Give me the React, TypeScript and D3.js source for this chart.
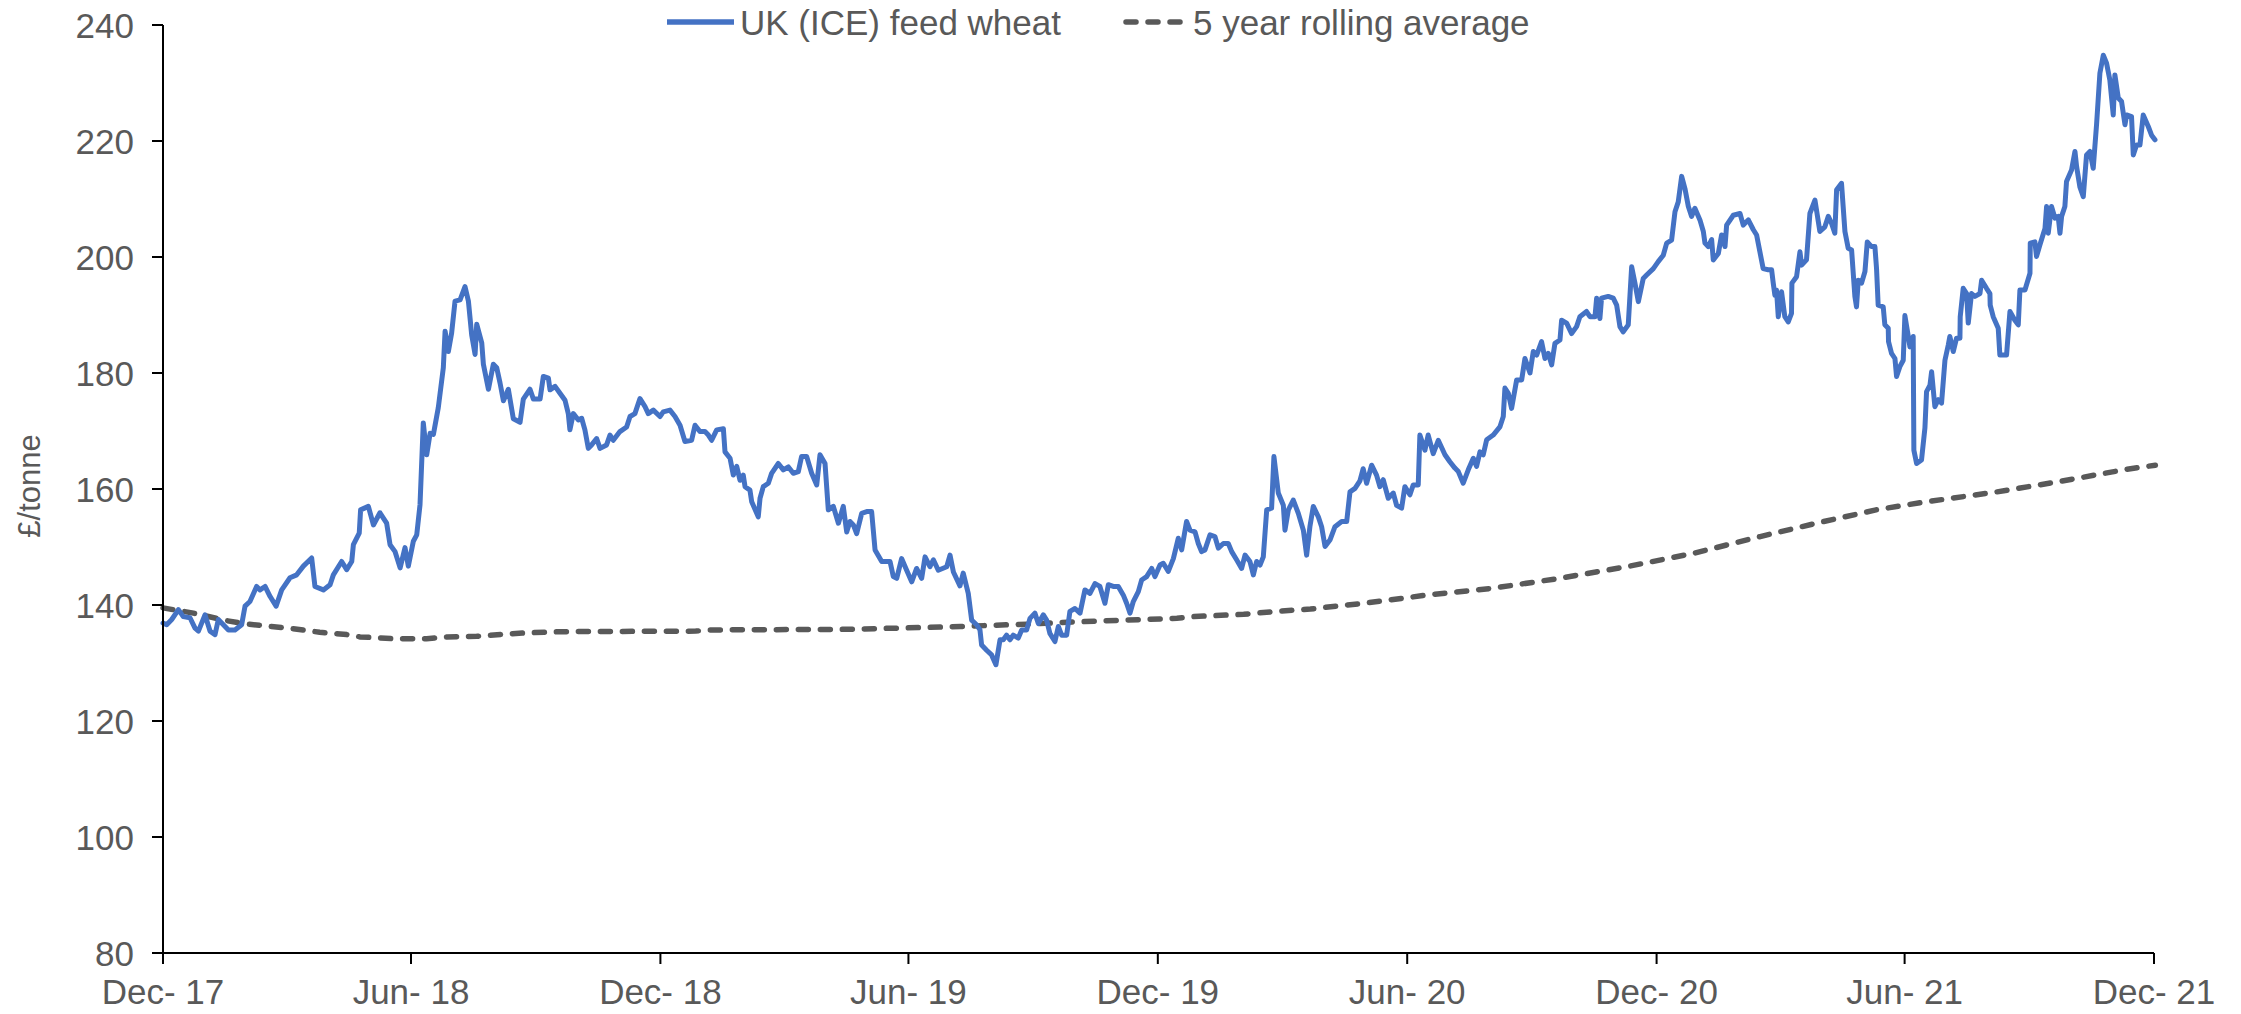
import React from "react";
import * as d3 from "d3";

// Days since 1 Dec 2017, price (£/tonne)
const wheat: [number, number][] = [
  [0,136.9],[2.7,136.6],[6.4,137.5],[11.3,139.2],[14.9,138],[19.8,137.8],[23.5,136],[26,135.5],[30.8,138.3],[34.5,135.5],[38.2,134.9],[40.6,137.5],[44.3,136.6],[48,135.7],[52.8,135.7],[57.7,136.6],[60.2,139.8],[63.8,140.6],[68.7,143.2],[71.2,142.6],[74.9,143.2],[78.5,141.5],[83,139.8],[87.1,142.6],[93.2,144.7],[98.1,145.2],[103,146.7],[109.1,148.1],[111.5,143.2],[117.7,142.6],[122.6,143.5],[125,145.2],[131.1,147.5],[134.8,146.1],[138.5,147.5],[139.7,150.4],[144,152.4],[145,156.4],[150.7,157],[154.4,153.8],[159.2,155.9],[164.1,154.1],[166.6,150.4],[170.3,149.2],[174,146.4],[177.6,149.9],[180,146.7],[183.7,151],[186.2,152.1],[188.6,157.3],[191,171.4],[193.5,165.9],[196,169.6],[198.4,169.4],[202,174],[205.7,180.9],[207,187.2],[209.4,183.7],[211.8,186.9],[214.3,192.4],[218,192.6],[221.6,194.9],[224.1,192.4],[226.5,186.6],[229,183.2],[230.2,188.4],[233.9,185.2],[235.1,181.5],[238.8,177.2],[242.4,181.5],[244.9,180.9],[247.3,178.3],[249.8,175.2],[253.4,177.2],[257.1,172.1],[262,171.5],[264.4,175.5],[269.3,177.2],[271.8,175.5],[276.7,175.5],[279.1,179.4],[282.8,179.1],[284,177.1],[287.7,177.7],
  [291.3,176.5],[295,175.3],[297.4,173],[298.6,170.2],[301.1,173],[304.8,171.9],[307.2,172.2],[309.6,170.2],[312.1,167],[314.5,167.6],[318.2,168.7],[320.7,167],[325.5,167.6],[328,169.3],[330.4,168.4],[335.3,169.9],[340.2,170.7],[342.7,172.5],[346.3,173],[350,175.6],[353.7,174.2],[356.1,173],[359.8,173.6],[364.7,172.5],[367.1,173.3],[372,173.6],[375.7,172.5],[379.4,171],[383,168.2],[387.9,168.4],[390.4,171],[394,169.9],[397.7,169.9],[400.2,169.3],[402.6,168.4],[406.3,170.2],[411.2,170.4],[412.4,166.4],[416.1,165.3],[418.5,162.4],[421,163.9],[423.4,161.5],[425.8,162.4],[427.1,160.4],[430.7,159.8],[432,157.8],[436.8,155.2],[438.1,158.4],[440.5,160.4],[444.2,161],[446.6,162.7],[451.5,164.4],[455.2,163.3],[458.9,163.8],[462.5,162.7],[466.2,163],[468.6,165.6],[472.3,165.6],[476,162.7],[479.7,160.7],[482.1,165.9],[485.8,164.4],[488.2,156.4],[491.9,157],[495.6,154.1],[499.2,157],[501.7,152.6],[504.1,154.4],[506.6,153.8],[509,152.3],[512.7,155.8],[516.4,156.1],[520,156.1],[522.5,149.5],[527.4,147.5],[533.5,147.5],[535.9,144.9],[538.4,144.6],[542,148],[545.7,146],[549.4,144],[553,146.3],[556.7,144.6],[559.2,148.3],[562.8,146.6],[565.3,147.8],[568.9,146],[575.1,146.6],[577.5,148.6],[580,145.7],[584.8,143.3],
  [587.2,145.5],[590.9,142],[593.4,137.4],[597,136.6],[599.5,135.7],[600.7,133.1],[604.4,132.2],[608,131.4],[611.2,129.7],[614.2,134],[616.6,134],[619,134.8],[621.5,134],[623.9,134.8],[627.6,134.3],[630.1,135.7],[633.7,135.7],[636.2,137.7],[639.8,138.6],[642.3,136.8],[646,138.3],[648.4,137.4],[650.8,135.1],[654.5,133.7],[657,136.3],[659.4,134.8],[663.1,134.8],[665.5,138.9],[669.2,139.4],[672.9,138.6],[676.5,142.6],[680.2,142],[683.9,143.7],[687.5,143.2],[691.2,140.3],[693.7,143.5],[697.3,143.2],[701,143.2],[704.7,141.7],[707.1,140.3],[709.6,138.6],[712,140.6],[715.7,142.3],[718.1,144.3],[721.8,144.9],[725.5,146.3],[727.9,144.9],[731.6,146.9],[734,147.2],[737.7,145.8],[741.4,148],[745,151.5],[747.5,149.5],[751.1,154.4],[753.6,152.9],[757.3,152.6],[759.7,150.6],[762.1,149.2],[764.6,149.5],[768.3,152.1],[771.9,151.8],[774.4,149.8],[778.1,150.6],[781.7,150.6],[784.2,149.2],[787.8,147.8],[791.5,146.3],[794,148.6],[797.6,147.5],[800.1,145.2],[802.5,147.5],[805,146.9],[807.4,148.3],[809.9,156.4],[813.5,156.7],[815.2,165.6],[818.4,159.3],[822.1,157.2],[823.3,152.9],[825.8,156.4],[829.4,158.1],[833.1,155.8],[836.8,152.9],[839.2,148.6],[841.6,153.5],[844.1,157],[847.8,155.2],[850.2,153.5],[852.7,150.1],[856.3,151.2],[860,153.5],[864.9,154.4],[868.6,154.4],[871,159.5],[874.7,160.1],[878.3,161.4],
  [880.7,163.5],[883.2,161],[886.9,164.1],[890.5,162.4],[893,160.4],[895.4,161.6],[899.1,158.4],[902.8,159.3],[905.2,157.2],[908.9,156.7],[911.3,160.4],[915,159],[917.4,160.7],[921.1,160.7],[922.3,169.3],[926,166.7],[928.4,169.3],[932.1,166.1],[935.8,168.4],[940.7,165.9],[944.3,164.7],[948,163.6],[950.5,163],[954.1,161],[957.8,163.3],[961.5,165.3],[963.9,163.9],[966.4,166.4],[968.8,165.9],[971.3,168.5],[976.1,169.3],[981,170.7],[983.5,172.5],[984.7,177.4],[987.2,176.5],[989.6,173.9],[993.3,178.8],[997,178.8],[999.4,182.5],[1003.1,180],[1005.5,183.7],[1008,183.1],[1011.6,185.4],[1014.1,182.5],[1016.5,183.4],[1019,181.4],[1021.4,185.1],[1025.1,185.7],[1026.3,189.1],[1030,188.6],[1033.6,186.8],[1037.3,188],[1039.7,189.7],[1044.6,190.6],[1047.1,189.7],[1050.8,189.7],[1052,192.9],[1054.4,189.4],[1055.6,192.9],[1060.5,193.2],[1064.2,192.9],[1066.7,191.7],[1069.1,188],[1071.5,187.1],[1075.2,188.3],[1077.7,198.3],[1080.1,195.5],[1082.6,192.3],[1086.2,196.3],[1088.7,196.9],[1093.6,198],[1097.2,199.2],[1100.9,200.3],[1103.4,202.4],[1107,202.9],[1109.5,207.8],[1111.9,209.5],[1114.4,213.9],[1116.8,211.8],[1119.3,208.7],[1121.7,207],[1124.1,208.4],[1127.8,206.4],[1130.3,204.4],[1131.5,202.4],[1133.9,201.8],[1136.4,203],[1137.6,199.5],[1141.3,200.6],[1143.7,203.8],[1146.2,201.8],[1147.4,205.5],[1152.3,207.2],[1157.2,207.5],[1159.6,205.5],[1163.3,206.4],[1167,204.7],[1169.4,203.8],[1171.8,200.9],
  [1174.2,198],[1177.9,197.8],[1180.4,197.8],[1181.6,195.5],[1182.8,193.4],[1184,194.3],[1185.3,189.7],[1187.7,194],[1190.1,189.7],[1192.6,188.8],[1195,190.3],[1195.3,195.5],[1198.7,196.6],[1201.2,200.9],[1202.4,198.6],[1206,199.5],[1208.5,207.5],[1212.2,209.8],[1215.8,204.4],[1219.5,205.2],[1222,207],[1224.4,205.8],[1226.8,204.1],[1228.1,211.6],[1231.7,212.7],[1234.2,204.4],[1236.6,201.5],[1239.1,201.2],[1241.5,193.2],[1242.7,191.4],[1244,196],[1246.4,195.5],[1248.9,197.5],[1250.6,202.6],[1253.7,201.8],[1256.2,201.8],[1257.4,198],[1258.6,191.7],[1262.3,191.4],[1263.5,188.3],[1266,187.7],[1266.2,185.4],[1268.4,183.4],[1270.9,182.5],[1272.1,179.4],[1274.5,181.1],[1277,182.2],[1278.2,189.9],[1280.7,186.3],[1281.9,184.5],[1284.3,186.3],[1284.8,166.7],[1286.8,164.4],[1290.4,165],[1292.9,170.5],[1294.1,176.8],[1296.6,177.9],[1297.8,180.2],[1300.2,174.2],[1302.7,175.4],[1305.1,174.8],[1307.6,182.2],[1310,184.8],[1311.2,186.3],[1313.7,183.7],[1316.1,186],[1318.6,186],[1318.8,189.7],[1321,194.6],[1323.5,193.7],[1324.7,188.6],[1327.1,193.7],[1329.6,193.2],[1333.3,193.7],[1334.5,196],[1338.1,194.6],[1340.6,193.7],[1340.8,191.7],[1343,189.7],[1346.7,187.7],[1347.9,183.1],[1352.8,183.1],[1355.3,190.6],[1358.9,189.1],[1361.4,188.3],[1362.6,194.3],[1366.3,194.3],[1370,197.2],[1370.2,202.4],[1373.6,202.6],[1374.8,200.1],[1377.3,202.1],[1381,204.9],[1382.2,208.7],[1383.4,204.1],[1385.8,208.7],[1388.3,206.7],[1390.7,207],[1392,204.1],[1393.2,207],[1395.6,208.7],[1396.8,213],[1400.5,215],[1403,218.2],[1404.2,215.6],[1406.6,212.1],[1409.1,210.4],[1411.5,217.6],[1414,218.2],[1416.4,215.3],[1418.9,223],[1421.3,231.7],[1423.8,234.8],[1426.2,233.4],[1428.6,230.5],[1431.1,224.5],[1432.3,231.4],[1434.8,227.4],[1437.2,226.8],[1439.7,222.8],[1440.9,224.5],[1444.5,224.2],[1445.8,217.6],[1448.2,219.3],[1450.7,219.3],[1453.1,224.5],[1456.8,222.5],[1459.2,221],[1461.7,220.2],
];

const rollingAverage: [number, number][] = [
  [0,139.5],[22.3,138.6],[46.7,137.3],[59,136.8],[78.5,136.3],[95.6,135.9],[115,135.3],[134.8,134.9],[144.6,134.5],[169,134.2],[193.5,134.2],[208.2,134.5],[230.2,134.6],[252.2,135],[266.9,135.2],[291.3,135.4],[391,135.5],[401,135.7],[500,135.8],[572,136.2],[585,136.3],[634,136.7],[670,137.1],[707,137.4],[744,137.7],[756,138],[793,138.4],[817,138.9],[842,139.3],[861,139.8],[878,140.2],[927,141.7],[976,142.9],[1025,144.6],[1074,146.6],[1123,148.9],[1172,151.8],[1215,154.2],[1257,156.4],[1294,157.8],[1343,159.4],[1392,161.3],[1441,163.4],[1462,164.1],
];

const yTicks = [80, 100, 120, 140, 160, 180, 200, 220, 240];
const xTickDates = ["2017-12-01","2018-06-01","2018-12-01","2019-06-01","2019-12-01","2020-06-01","2020-12-01","2021-06-01","2021-12-01"];
const seriesNames = ["UK (ICE) feed wheat", "5 year rolling average"];

const W = 2241, H = 1014;
const start = new Date(2017, 11, 1);
const end = new Date(2021, 11, 1);
const toDate = (d: number) => new Date(start.getTime() + d * 86400000);
const parse = (s: string) => { const [y, m, dd] = s.split("-").map(Number); return new Date(y, m - 1, dd); };

export default function App() {
  const x = d3.scaleTime().domain([start, end]).range([163, 2154]);
  const y = d3.scaleLinear().domain([80, 240]).range([953, 25]);
  const line = d3.line<[number, number]>().x(d => x(toDate(d[0]))).y(d => y(d[1]));
  const fmt = d3.timeFormat("%b- %y");
  const font = "'Liberation Sans', Arial, sans-serif";
  const textColor = "#595959";
  return (
    <svg width={W} height={H} style={{ position: "absolute", left: 0, top: 0, background: "#fff" }} fontFamily={font}>
      <rect width={W} height={H} fill="#fff" />
      <path d={line(rollingAverage) || ""} fill="none" stroke="#595959" strokeWidth={5.5} strokeDasharray="10 12" strokeLinecap="round" />
      <path d={line(wheat) || ""} fill="none" stroke="#4472C4" strokeWidth={5} strokeLinejoin="round" strokeLinecap="round" />
      {/* Y axis */}
      <line x1={163} x2={163} y1={y(240)} y2={y(80)} stroke="#000" strokeWidth={2} />
      {yTicks.map(t => (
        <g key={t}>
          <line x1={152} x2={163} y1={y(t)} y2={y(t)} stroke="#000" strokeWidth={2} />
          <text x={134} y={y(t)} dy="0.36em" textAnchor="end" fontSize={35} fill={textColor}>{t}</text>
        </g>
      ))}
      {/* X axis */}
      <line x1={x(start)} x2={x(end)} y1={953} y2={953} stroke="#000" strokeWidth={2} />
      {xTickDates.map(s => {
        const d = parse(s);
        return (
          <g key={s}>
            <line x1={x(d)} x2={x(d)} y1={953} y2={964} stroke="#000" strokeWidth={2} />
            <text x={x(d)} y={1004} textAnchor="middle" fontSize={35} fill={textColor}>{fmt(d)}</text>
          </g>
        );
      })}
      <text transform="translate(29,486) rotate(-90)" textAnchor="middle" dy="0.36em" fontSize={31} fill={textColor}>£/tonne</text>
      {/* Legend */}
      <line x1={667} x2={734} y1={22} y2={22} stroke="#4472C4" strokeWidth={5.5} />
      <text x={740} y={35} fontSize={35} fill={textColor}>{seriesNames[0]}</text>
      <line x1={1126} x2={1182} y1={22} y2={22} stroke="#595959" strokeWidth={5.5} strokeDasharray="10 12" strokeLinecap="round" />
      <text x={1193} y={35} fontSize={35} fill={textColor}>{seriesNames[1]}</text>
    </svg>
  );
}
